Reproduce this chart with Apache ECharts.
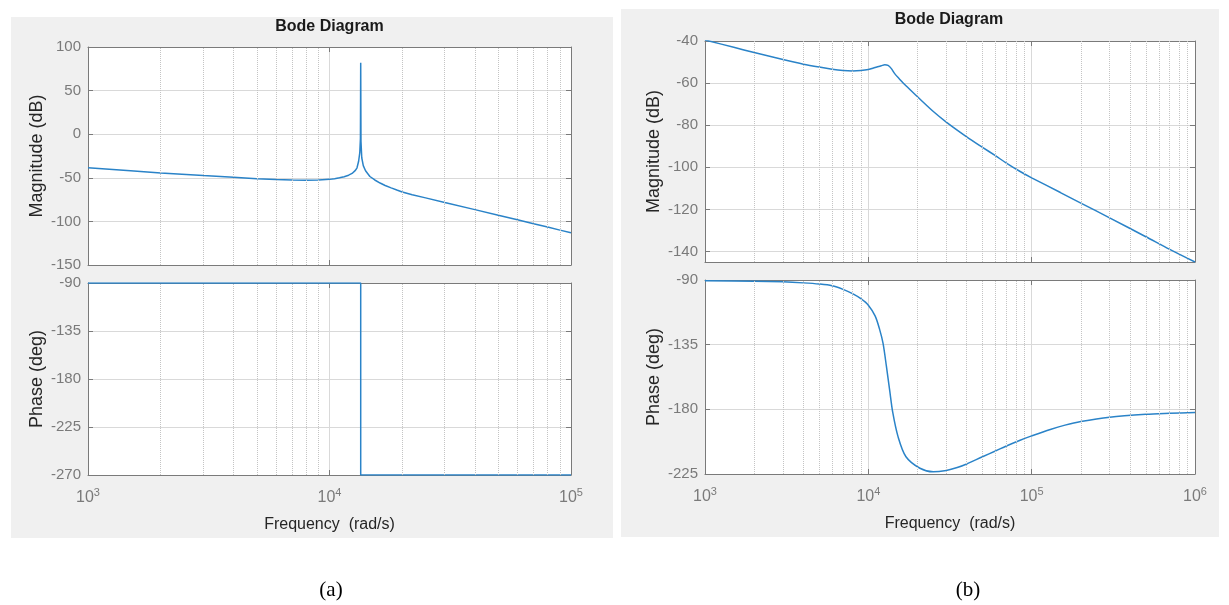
<!DOCTYPE html>
<html>
<head>
<meta charset="utf-8">
<title>Bode</title>
<script src="https://cdn.jsdelivr.net/npm/echarts@6/dist/echarts.min.js"></script>
</head>
<body style="margin:0;background:#fff;">
<div id="main" style="width:1229px;height:605px;"></div>
<script type="text/javascript">
// (a) magnitude, rad/s -> dB
var freqMagA = [1000, 1500, 2000, 3000, 4000, 5000, 6000, 7000, 8000, 9000, 10000, 10500, 11000, 11500, 12000, 12400, 12800, 13000, 13200, 13350, 13430, 13465, 13500, 13600, 13800, 14100, 14700, 15400, 16200, 17000, 18000, 19000, 20000, 22000, 25000, 30000, 40000, 50000, 60000, 70000, 80000, 90000, 100000];
var magA = [-38.5, -42, -44.5, -47.5, -49.5, -51, -52, -52.5, -52.8, -52.5, -51.8, -51, -50, -48.7, -47, -45, -41.5, -38.5, -31, -21, -5, 82, -8, -27, -36, -42, -48.5, -52.5, -56, -58.8, -61.6, -64, -66.2, -69.4, -73, -78.3, -86.5, -93, -98.2, -102.7, -106.5, -110, -113];
// (a) phase
var freqPhaseA = [1000, 13465, 13466, 100000];
var phaseA = [-90, -90, -270, -270];
// (b) magnitude
var freqMagB = [1000, 1500, 2000, 3000, 4000, 5000, 6000, 7000, 8000, 9000, 10000, 11000, 12000, 12600, 13200, 13800, 14500, 15500, 17000, 20000, 25000, 30000, 40000, 50000, 60000, 70000, 85000, 100000, 150000, 200000, 300000, 500000, 700000, 1000000];
var magB = [-39.5, -43, -45.5, -48.8, -51, -52.4, -53.4, -54, -54.2, -54, -53.5, -52.6, -51.8, -51.3, -51.6, -53, -55.5, -58, -61.3, -66.5, -73.5, -78.5, -85.5, -90.5, -94.5, -98, -102, -105, -112, -117, -124, -133, -139, -145];
// (b) phase
var freqPhaseB = [1000, 2000, 3000, 4000, 5000, 6000, 7000, 8000, 9000, 10000, 11000, 11700, 12300, 12900, 13500, 14100, 15200, 17000, 20700, 25000, 30000, 35000, 40000, 50000, 60000, 70000, 85000, 100000, 130000, 160000, 200000, 300000, 500000, 700000, 1000000];
var phaseB = [-90.5, -90.8, -91.3, -92, -92.8, -94, -96.5, -99.5, -103, -107.5, -115, -124, -134, -150, -166.5, -182, -199, -213, -221, -223.5, -222.5, -220.5, -218, -213, -209, -205.5, -201.5, -198.5, -194, -191, -188.5, -185.5, -183.5, -182.8, -182.2];

// y tick labels
var magTicksA = [-150, -100, -50, 0, 50, 100];
var phaseTicksA = [-270, -225, -180, -135, -90];
var magTicksB = [-140, -120, -100, -80, -60, -40];
var phaseTicksB = [-225, -180, -135, -90];

var FONT = 'Liberation Sans, Arial, sans-serif';
var LINE = '#2a83c8';
var AXIS = '#7a7a7a';
var GRID = '#d9d9d9';

// 图表区域
var plots = [
    {box: {left: 88, top: 47, width: 483, height: 218}, x: [1e3, 1e5], y: [-150, 100], interval: 50, ticks: magTicksA, name: 'Magnitude (dB)', bottom: false, fx: freqMagA, fy: magA, smooth: false},
    {box: {left: 88, top: 283, width: 483, height: 192}, x: [1e3, 1e5], y: [-270, -90], interval: 45, ticks: phaseTicksA, name: 'Phase (deg)', bottom: true, fx: freqPhaseA, fy: phaseA, smooth: false},
    {box: {left: 705, top: 41, width: 490, height: 221}, x: [1e3, 1e6], y: [-145, -40], interval: null, ticks: magTicksB, name: 'Magnitude (dB)', bottom: false, fx: freqMagB, fy: magB, smooth: 0.3},
    {box: {left: 705, top: 280, width: 490, height: 194}, x: [1e3, 1e6], y: [-225, -90], interval: 45, ticks: phaseTicksB, name: 'Phase (deg)', bottom: true, fx: freqPhaseB, fy: phaseB, smooth: 0.3}
];

function minorFreqs(lo, hi) {
    var out = [];
    for (var d = lo; d < hi; d *= 10) {
        for (var m = 2; m <= 9; m++) out.push(d * m);
    }
    return out;
}

var grids = [], xAxes = [], yAxes = [], series = [];

plots.forEach(function (p, i) {
    grids.push(Object.assign({show: true, backgroundColor: '#fff', borderWidth: 0}, p.box));

    var tickStyle = {show: true, inside: true, length: 5, lineStyle: {color: AXIS}};
    var lineStyle = {show: true, onZero: false, lineStyle: {color: AXIS, width: 1}};

    xAxes.push({
        type: 'log', logBase: 10, gridIndex: i, min: p.x[0], max: p.x[1], position: 'bottom',
        axisLine: lineStyle, axisTick: tickStyle,
        splitLine: {show: true, lineStyle: {color: GRID}},
        axisLabel: p.bottom ? {
            show: true, margin: 12, color: AXIS,
            formatter: function (v) { return '{b|10}{e|' + Math.round(Math.log10(v)) + '}'; },
            rich: {
                b: {fontSize: 16, fontFamily: FONT, color: AXIS},
                e: {fontSize: 11, fontFamily: FONT, color: AXIS, padding: [0, 0, 10, 0]}
            }
        } : {show: false},
        name: p.bottom ? 'Frequency  (rad/s)' : '', nameLocation: 'middle', nameGap: 42,
        nameTextStyle: {fontSize: 16, color: '#262626', fontFamily: FONT}
    });
    xAxes.push({
        type: 'log', logBase: 10, gridIndex: i, min: p.x[0], max: p.x[1], position: 'top',
        axisLine: lineStyle, axisTick: tickStyle, splitLine: {show: false}, axisLabel: {show: false}
    });

    var ticks = p.ticks;
    var yl = {
        type: 'value', gridIndex: i, min: p.y[0], max: p.y[1], position: 'left',
        axisLine: lineStyle, axisTick: tickStyle,
        splitLine: {show: true, lineStyle: {color: GRID}},
        axisLabel: {
            show: true, margin: 7, color: AXIS, fontSize: 15, fontFamily: FONT,
            formatter: function (v) { return ticks.indexOf(v) >= 0 ? String(v) : ''; }
        },
        name: p.name, nameLocation: 'middle', nameGap: 42, nameRotate: 90,
        nameTextStyle: {fontSize: 18, color: '#262626', fontFamily: FONT}
    };
    var yr = {
        type: 'value', gridIndex: i, min: p.y[0], max: p.y[1], position: 'right',
        axisLine: lineStyle, axisTick: tickStyle, splitLine: {show: false}, axisLabel: {show: false}
    };
    if (p.interval) { yl.interval = p.interval; yr.interval = p.interval; }
    else { yl.splitNumber = 5; yr.splitNumber = 5; }
    yAxes.push(yl, yr);

    series.push({
        type: 'line', xAxisIndex: 2 * i, yAxisIndex: 2 * i,
        data: p.fx.map(function (f, k) { return [f, p.fy[k]]; }),
        showSymbol: false, smooth: p.smooth, clip: true,
        lineStyle: {color: LINE, width: 1.5},
        markLine: {
            silent: true, symbol: ['none', 'none'], label: {show: false},
            lineStyle: {type: 'dotted', color: '#c4c4c4', width: 1},
            data: minorFreqs(p.x[0], p.x[1]).map(function (f) { return {xAxis: f}; })
        },
        z: 3
    });
});

var myChart = echarts.init(document.getElementById('main'));
myChart.setOption({
    animation: false,
    backgroundColor: '#fff',
    graphic: [
        {type: 'rect', shape: {x: 11, y: 17, width: 602, height: 521}, style: {fill: '#f0f0f0'}, z: -10},
        {type: 'rect', shape: {x: 621, y: 9, width: 598, height: 528}, style: {fill: '#f0f0f0'}, z: -10},
        {type: 'text', x: 329.5, y: 27, style: {text: 'Bode Diagram', align: 'center', verticalAlign: 'middle', font: 'bold 16px ' + FONT, fill: '#1a1a1a'}},
        {type: 'text', x: 949, y: 20, style: {text: 'Bode Diagram', align: 'center', verticalAlign: 'middle', font: 'bold 16px ' + FONT, fill: '#1a1a1a'}},
        {type: 'text', x: 331, y: 590, style: {text: '(a)', align: 'center', verticalAlign: 'middle', font: '21px Liberation Serif, Times New Roman, serif', fill: '#000'}},
        {type: 'text', x: 968, y: 590, style: {text: '(b)', align: 'center', verticalAlign: 'middle', font: '21px Liberation Serif, Times New Roman, serif', fill: '#000'}}
    ],
    grid: grids,
    xAxis: xAxes,
    yAxis: yAxes,
    series: series
});
</script>
</body>
</html>
